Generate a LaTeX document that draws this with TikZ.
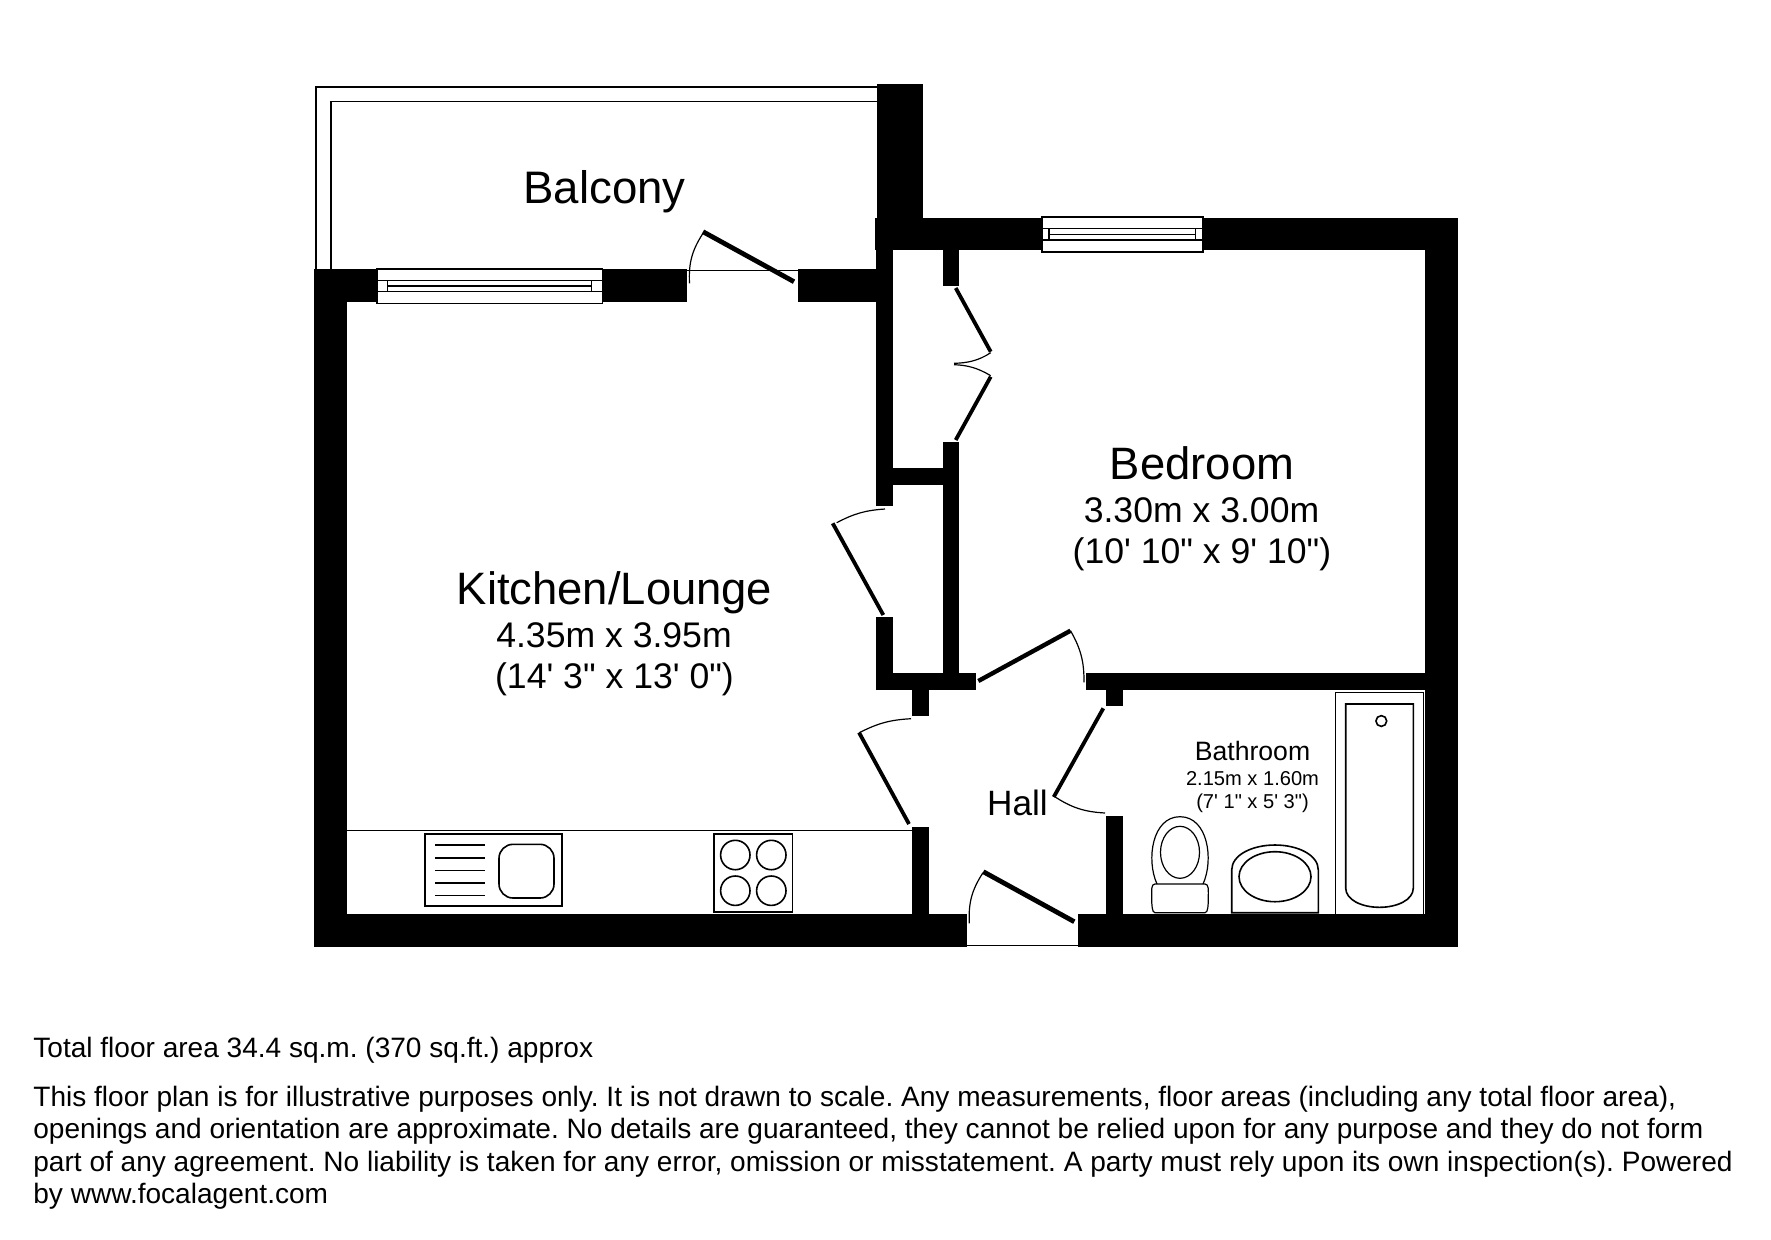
\documentclass[tikz,border=0pt]{standalone}
\usepackage{fontspec}
\newfontfamily\planfont{Liberation Sans}
\newcommand{\fpx}[1]{\planfont\frenchspacing\fontsize{\dimexpr#1pt/2\relax}{\dimexpr#1pt/2\relax}\selectfont}
\begin{document}
\begin{tikzpicture}[x=0.5pt,y=-0.5pt,
  wall/.style={fill=black},
  thinline/.style={draw=black,line width=0.65pt},
  swing/.style={draw=black,line width=0.6pt},
  leaf/.style={draw=black,line width=2.4pt},
  fixture/.style={draw=black,line width=0.8pt},
  frame/.style={draw=black,line width=0.8pt,fill=white},
  lbl/.style={inner sep=0pt,anchor=base,text=black},
  foot/.style={inner sep=0pt,anchor=base west,text=black,font=\fpx{28.05}}]
\useasboundingbox (0,0) rectangle (1771,1239);
\fill[white] (0,0) rectangle (1771,1239);
% balcony rails
\draw[thinline] (316,306) -- (316,87) -- (878,87);
\draw[thinline] (331,306) -- (331,101.7) -- (878,101.7);
% walls
\fill[wall] (877,84) rectangle (923,250);
\fill[wall] (875,218) rectangle (1458.3,250);
\fill[wall] (923,217.5) rectangle (1458.3,250);
\fill[wall] (1425,217.5) rectangle (1458.3,946.7);
\fill[wall] (314,269) rectangle (346.7,946.7);
\fill[wall] (314,269) rectangle (686.7,301.7);
\fill[wall] (798.4,269) rectangle (893.3,301.7);
\fill[wall] (876,218) rectangle (893.3,506);
\fill[wall] (876,617.3) rectangle (893.3,690);
\fill[wall] (876,673.3) rectangle (975.7,690);
\fill[wall] (942.5,250) rectangle (959.3,285.7);
\fill[wall] (942.5,441.7) rectangle (959.3,690);
\fill[wall] (893,468) rectangle (959.3,485);
\fill[wall] (911.9,690) rectangle (929,716);
\fill[wall] (912.3,827.3) rectangle (929,946.7);
\fill[wall] (1086,673.3) rectangle (1458.3,690);
\fill[wall] (1105.7,690) rectangle (1123.3,705.7);
\fill[wall] (1106,816) rectangle (1123.3,946.7);
\fill[wall] (314,914) rectangle (966.7,946.7);
\fill[wall] (1077.7,914) rectangle (1458.3,946.7);
% windows
\path[frame] (377,269) rectangle (602.5,303.3);
\draw[thinline] (377,280.7) -- (602.5,280.7) (377,291.3) -- (602.5,291.3);
\draw[thinline] (387.8,280.7) -- (387.8,291.3) (591.8,280.7) -- (591.8,291.3) (387.8,286) -- (591.8,286);
\path[frame] (1041.7,216.7) rectangle (1203,251.7);
\draw[thinline] (1041.7,228.3) -- (1203,228.3) (1041.7,240) -- (1203,240);
\draw[thinline] (1049,228.3) -- (1049,240) (1195.7,228.3) -- (1195.7,240) (1049,234.3) -- (1195.7,234.3);
% thresholds
\draw[thinline] (686.7,270.3) -- (798.4,270.3);
\draw[thinline] (966.7,945.7) -- (1077.7,945.7);
% doors
\draw[leaf] (703,231.7) -- (794,281.7);
\draw[swing] (703,233.3) to[bend right=18] (689.5,283.3);
\draw[leaf,line width=1.9pt] (955.7,288) -- (990.7,351.7);
\draw[leaf,line width=1.9pt] (990.7,376.7) -- (955.7,440);
\draw[swing] (990.7,352.7) .. controls (978,361) and (967,363) .. (954,363.3);
\draw[swing] (990.7,375.7) .. controls (978,368) and (967,365) .. (954,364.7);
\draw[leaf,line width=1.9pt] (832.7,523.3) -- (883.3,615);
\draw[swing] (836.7,522.7) to[bend left=12] (885,509);
\draw[leaf,line width=2.2pt] (978.3,681) -- (1070.5,630.7);
\draw[swing] (1070.5,630.7) to[bend left=15] (1084,682.3);
\draw[leaf,line width=1.9pt] (859,732.5) -- (909,824);
\draw[swing] (859.3,732.7) to[bend left=12] (911,718.7);
\draw[leaf,line width=1.9pt] (1103.3,708.3) -- (1053.7,797);
\draw[swing] (1053.7,796) to[bend right=15] (1105,813);
\draw[leaf] (983.3,871.7) -- (1074.3,921.7);
\draw[swing] (983,872.7) to[bend right=18] (969.3,923.3);
% kitchen
\draw[thinline] (346,830.7) -- (912,830.7);
\draw[fixture] (425,833.7) rectangle (562,905.7);
\draw[fixture] (435,844.7) -- (485,844.7) (435,857.7) -- (485,857.7) (435,870.3) -- (485,870.3) (435,883) -- (485,883) (435,895.3) -- (485,895.3);
\draw[fixture,rounded corners=7pt] (499,844.3) rectangle (554,898);
\draw[fixture] (714,834) rectangle (792.3,911.7);
\draw[fixture] (735.3,855) circle[radius=14.7];
\draw[fixture] (771.3,855) circle[radius=14.7];
\draw[fixture] (735.3,890.7) circle[radius=14.7];
\draw[fixture] (771.3,890.7) circle[radius=14.7];
% bath
\draw[thinline] (1335.7,914) -- (1335.7,692.3) -- (1423.3,692.3) -- (1423.3,914);
\draw[fixture] (1345.7,704) -- (1413.3,704) -- (1413.3,888) .. controls (1413.3,900) and (1397,907.3) .. (1379.5,907.3) .. controls (1362,907.3) and (1345.7,900) .. (1345.7,888) -- cycle;
\draw[fixture] (1381.3,721) circle[radius=5.4];
% toilet
\draw[swing] (1157,884) .. controls (1146,860) and (1152,816.7) .. (1180,816.7) .. controls (1208,816.7) and (1214,860) .. (1203,884);
\draw[swing] (1180,852.3) ellipse[x radius=19.5,y radius=26];
\draw[swing] (1155,884) -- (1205,884) .. controls (1209,884) and (1208.3,890) .. (1208.3,898) .. controls (1208.3,905) and (1208,912.7) .. (1205,912.7) -- (1155,912.7) .. controls (1152,912.7) and (1151.7,905) .. (1151.7,898) .. controls (1151.7,890) and (1151,884) .. (1155,884) -- cycle;
% basin
\draw[fixture] (1231.7,912.7) -- (1231.7,870) .. controls (1231.7,855) and (1252,845) .. (1275,845) .. controls (1298,845) and (1318.3,855) .. (1318.3,870) -- (1318.3,912.7) -- cycle;
\draw[fixture] (1275,876.7) ellipse[x radius=36,y radius=25];
% labels
\node[lbl,font=\fpx{45.6}] (balcony) at (604.5,203) {Balcony};
\node[lbl,font=\fpx{45.4}] (kitchen) at (614.5,604) {Kitchen/Lounge};
\node[lbl,font=\fpx{35.6}] (kitchendim) at (614,647) {4.35m x 3.95m};
\node[lbl,font=\fpx{35.6}] (kitchenimp) at (614.5,688) {(14' 3" x 13' 0")};
\node[lbl,font=\fpx{45.4}] (bedroom) at (1202,479) {Bedroom};
\node[lbl,font=\fpx{35.6}] (bedroomdim) at (1201.5,522) {3.30m x 3.00m};
\node[lbl,font=\fpx{35.6}] (bedroomimp) at (1202,563) {(10' 10" x 9' 10")};
\node[lbl,font=\fpx{35.2}] (hall) at (1017.5,815) {Hall};
\node[lbl,font=\fpx{26.6}] (bathroom) at (1252.5,760.7) {Bathroom};
\node[lbl,font=\fpx{20.1}] (bathroomdim) at (1252.5,785) {2.15m x 1.60m};
\node[lbl,font=\fpx{20.1}] (bathroomimp) at (1252.5,808) {(7' 1" x 5' 3")};
\node[foot] (area) at (33,1057.5) {Total floor area 34.4 sq.m. (370 sq.ft.) approx};
\node[foot] (disc1) at (33,1106.5) {This floor plan is for illustrative purposes only. It is not drawn to scale. Any measurements, floor areas (including any total floor area),};
\node[foot] (disc2) at (33,1138.5) {openings and orientation are approximate. No details are guaranteed, they cannot be relied upon for any purpose and they do not form};
\node[foot] (disc3) at (33,1171.5) {part of any agreement. No liability is taken for any error, omission or misstatement. A party must rely upon its own inspection(s). Powered};
\node[foot] (disc4) at (33,1203.5) {by www.focalagent.com};
\end{tikzpicture}
\end{document}
